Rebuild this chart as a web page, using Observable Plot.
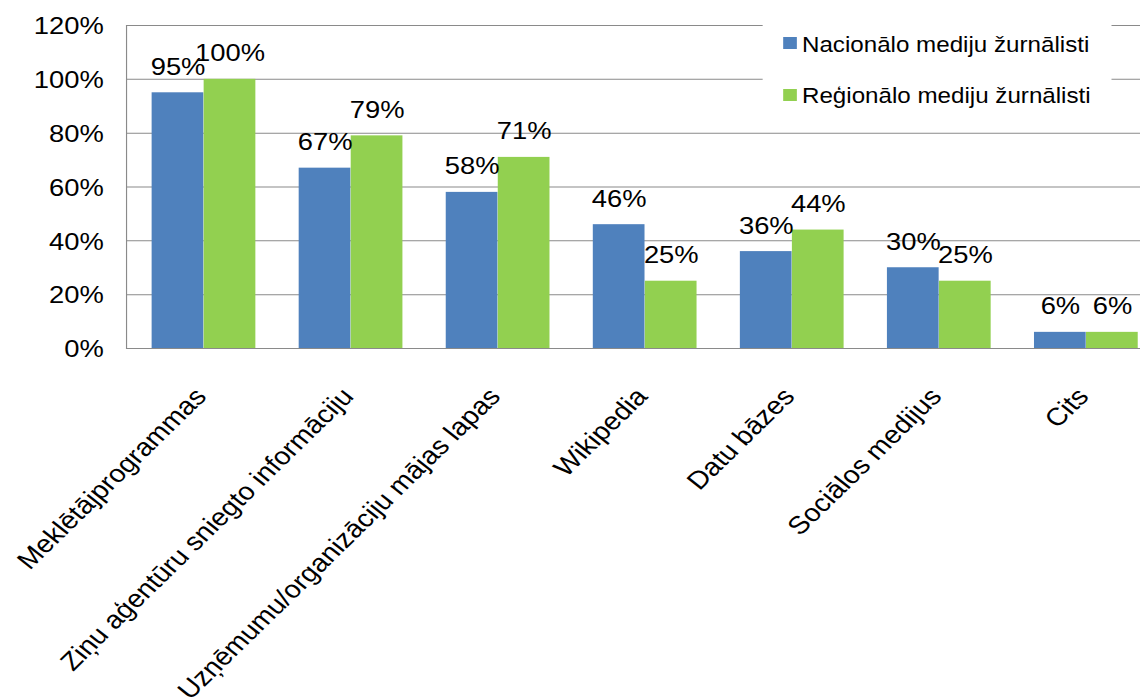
<!DOCTYPE html>
<html>
<head>
<meta charset="utf-8">
<script src="https://cdn.jsdelivr.net/npm/d3@7"></script>
<script src="https://cdn.jsdelivr.net/npm/@observablehq/plot@0.6"></script>
<style>
  html, body { margin: 0; padding: 0; background: #fff; overflow: hidden; width: 1140px; height: 697px; }
  #wrap { position: relative; width: 1020px; height: 697px; transform: scaleX(1.14); transform-origin: 0 0; font-family: "Liberation Sans", Arial, sans-serif; }
  #legend { position: absolute; left: 669px; top: 12px; width: 306px; height: 108px; background: #fff; }
  .item { position: absolute; left: 0; font-size: 21.2px; line-height: 22px; color: #000; white-space: nowrap; }
  .sw { position: absolute; width: 11.5px; height: 12px; }
  .lab { position: absolute; left: 34.5px; }
</style>
</head>
<body>
<div id="wrap"><div id="chart"></div><div id="legend"></div></div>
<script>
const categories = [
  "Meklētājprogrammas",
  "Ziņu aģentūru sniegto informāciju",
  "Uzņēmumu/organizāciju mājas lapas",
  "Wikipedia",
  "Datu bāzes",
  "Sociālos medijus",
  "Cits"
];
const seriesNames = ["Nacionālo mediju žurnālisti", "Reģionālo mediju žurnālisti"];
const national = [0.95, 0.67, 0.58, 0.46, 0.36, 0.30, 0.06];
const regional = [1.00, 0.79, 0.71, 0.25, 0.44, 0.25, 0.06];
const yTicks = [0, 0.2, 0.4, 0.6, 0.8, 1.0, 1.2];
const colors = ["#4F81BD", "#92D050"];

const W = 1020, mL = 110.5, mR = 0.7;
const pInner = 0.297, pOuter = pInner / 2;
const step = (W - mL - mR) / categories.length;
const half = step * (1 - pInner) / 2;

const rowsN = categories.map((c, i) => ({category: c, value: national[i]}));
const rowsR = categories.map((c, i) => ({category: c, value: regional[i]}));
const pct = d => Math.round(d * 100) + "%";
const grid = "#8a8a8a";

const chart = Plot.plot({
  width: W,
  height: 697,
  marginLeft: mL,
  marginRight: mR,
  marginTop: 25,
  marginBottom: 349,
  style: {fontFamily: "'Liberation Sans', Arial, sans-serif", fontSize: "24px", color: "#000", background: "#fff"},
  x: {domain: categories, paddingInner: pInner, paddingOuter: pOuter, axis: null},
  y: {domain: [0, 1.2], axis: null},
  marks: [
    Plot.gridY(yTicks, {stroke: grid, strokeOpacity: 1, strokeWidth: 1}),
    Plot.barY(rowsN, {x: "category", y: "value", fill: colors[0], insetRight: half}),
    Plot.barY(rowsR, {x: "category", y: "value", fill: colors[1], insetLeft: half}),
    Plot.text(rowsN, {x: "category", y: "value", text: d => pct(d.value), dx: -half / 2, dy: -18, lineAnchor: "bottom", fontSize: 24, fill: "#000"}),
    Plot.text(rowsR, {x: "category", y: "value", text: d => pct(d.value), dx: half / 2, dy: -18, lineAnchor: "bottom", fontSize: 24, fill: "#000"}),
    Plot.frame({stroke: grid, strokeWidth: 1}),
    Plot.axisY({ticks: yTicks, tickFormat: pct, tickSize: 0, tickPadding: 20, fontSize: 24, dy: 1, label: null}),
    Plot.text(categories, {x: d => d, frameAnchor: "bottom", dx: -10, dy: 37, rotate: -48, textAnchor: "end", lineAnchor: "top", fontSize: 25, fill: "#000"})
  ]
});
document.getElementById("chart").appendChild(chart);

const legend = document.getElementById("legend");
const rowTops = [21.8, 72.8];
const swTops = [25, 77];
seriesNames.forEach((name, i) => {
  const sw = document.createElement("div");
  sw.className = "sw";
  sw.style.left = "18px";
  sw.style.top = swTops[i] + "px";
  sw.style.background = colors[i];
  legend.appendChild(sw);
  const it = document.createElement("div");
  it.className = "item lab";
  it.style.top = rowTops[i] + "px";
  it.textContent = name;
  legend.appendChild(it);
});
</script>
</body>
</html>
